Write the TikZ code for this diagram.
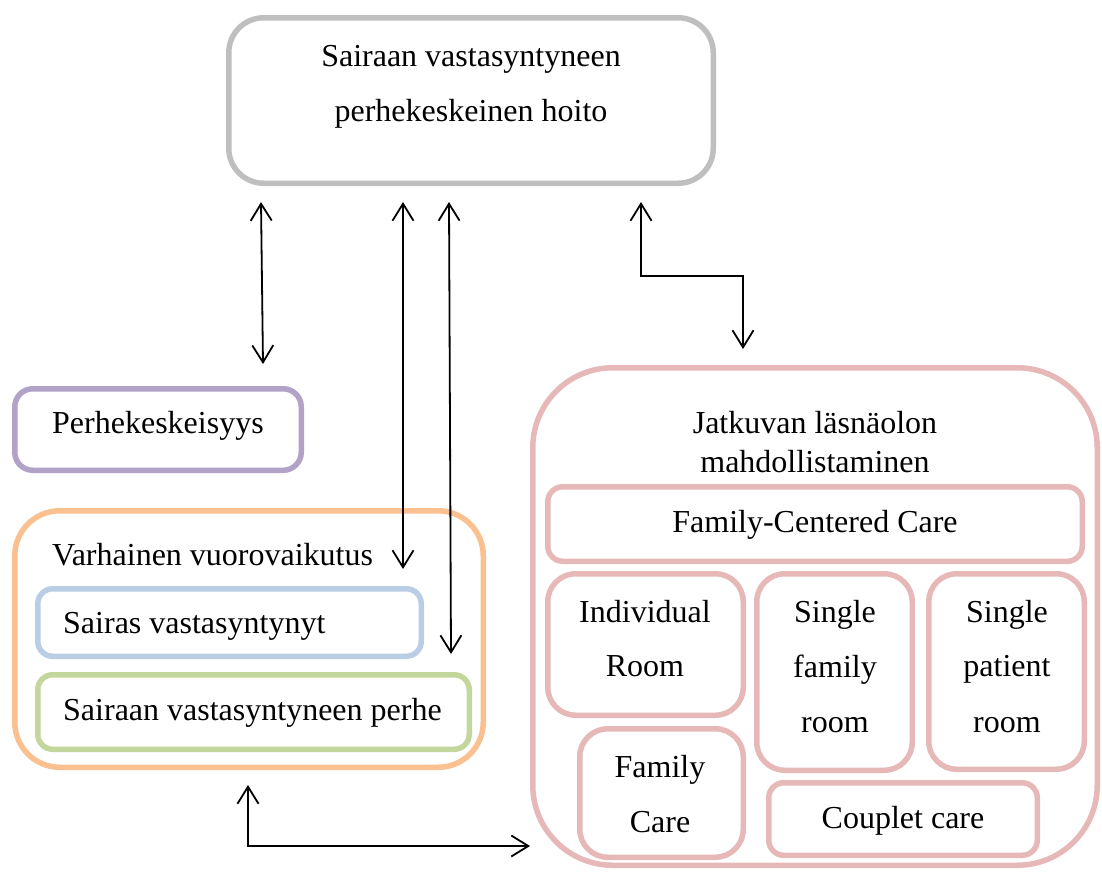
\documentclass[tikz,border=0pt]{standalone}
\usepackage{fontspec}
\setmainfont{Liberation Serif}
\usetikzlibrary{arrows.meta}
\definecolor{cgray}{HTML}{BFBFBF}
\definecolor{cpurple}{HTML}{B3A2C7}
\definecolor{corange}{HTML}{FAC090}
\definecolor{cblue}{HTML}{B9CDE5}
\definecolor{cgreen}{HTML}{C3D69B}
\definecolor{cpink}{HTML}{E6B9B8}
\begin{document}
\begin{tikzpicture}[x=1pt,y=-1pt,
  box/.style={draw=#1, line width=5.5pt, inner sep=0pt, outer sep=0pt, rectangle},
  txt/.style={font=\fontsize{32}{38}\selectfont, inner sep=0pt, anchor=base},
  txtl/.style={txt, anchor=base west},
  conn/.style={line width=1.8pt, black, {Straight Barb[length=17pt,width=21pt]}-{Straight Barb[length=17pt,width=21pt]}}
]
\useasboundingbox (0,0) rectangle (1102,871);
% boxes
\node[box=cgray, rounded corners=35pt, minimum width=484.5pt, minimum height=165.5pt] (top) at (471,100.5) {};
\node[box=cpurple, rounded corners=18pt, minimum width=286.5pt, minimum height=81.5pt] (perh) at (158,429.5) {};
\node[box=corange, rounded corners=45pt, minimum width=468.5pt, minimum height=256.5pt] (varh) at (249,639) {};
\node[box=cblue, rounded corners=15pt, minimum width=383.5pt, minimum height=67.5pt] (sairas) at (229.5,622.5) {};
\node[box=cgreen, rounded corners=15pt, minimum width=431.5pt, minimum height=74.5pt] (perhe) at (253.5,712) {};
\node[box=cpink, rounded corners=80pt, minimum width=564.5pt, minimum height=497.5pt] (jatk) at (815,616.5) {};
\node[box=cpink, rounded corners=15pt, minimum width=534.5pt, minimum height=74.5pt] (fcc) at (815,524) {};
\node[box=cpink, rounded corners=28pt, minimum width=195.5pt, minimum height=141.5pt] (indiv) at (645.5,644.5) {};
\node[box=cpink, rounded corners=28pt, minimum width=155.5pt, minimum height=196.5pt] (sfam) at (834.5,672) {};
\node[box=cpink, rounded corners=28pt, minimum width=155.5pt, minimum height=195.5pt] (spat) at (1006.5,671.5) {};
\node[box=cpink, rounded corners=28pt, minimum width=163.5pt, minimum height=128.5pt] (fcare) at (661.5,793) {};
\node[box=cpink, rounded corners=15pt, minimum width=268.5pt, minimum height=72.5pt] (coup) at (903,819) {};
% texts
\node[txt] (t1a) at (471,66) {Sairaan vastasyntyneen};
\node[txt] (t1b) at (471,121) {perhekeskeinen hoito};
\node[txtl] (t2) at (52,433) {Perhekeskeisyys};
\node[txtl] (t3) at (52,565) {Varhainen vuorovaikutus};
\node[txtl] (t4) at (63,633) {Sairas vastasyntynyt};
\node[txtl] (t5) at (63,720) {Sairaan vastasyntyneen perhe};
\node[txt] (t6a) at (815,433) {Jatkuvan läsnäolon};
\node[txt] (t6b) at (815,472) {mahdollistaminen};
\node[txt] (t7) at (815,532) {Family-Centered Care};
\node[txt] (t8a) at (645,622) {Individual};
\node[txt] (t8b) at (645,676) {Room};
\node[txt] (t9a) at (835,622) {Single};
\node[txt] (t9b) at (835,677) {family};
\node[txt] (t9c) at (835,732) {room};
\node[txt] (t10a) at (1007,622) {Single};
\node[txt] (t10b) at (1007,676) {patient};
\node[txt] (t10c) at (1007,732) {room};
\node[txt] (t11a) at (660,777) {Family};
\node[txt] (t11b) at (660,832) {Care};
\node[txt] (t12) at (903,828) {Couplet care};
% connector end points
\coordinate (a1s) at (261,202);
\coordinate (a1e) at (263,364);
\coordinate (a2s) at (403,202);
\coordinate (a2e) at (403,569);
\coordinate (a3s) at (449,202);
\coordinate (a3e) at (451,654);
\coordinate (a4s) at (641,202);
\coordinate (a4e) at (743,349);
\coordinate (a5s) at (248,785);
\coordinate (a5e) at (530,846);
% connectors
\draw[conn] (a1s) -- (a1e);
\draw[conn] (a2s) -- (a2e);
\draw[conn] (a3s) -- (a3e);
\draw[conn] (a4s) -- (a4s |- 0,276) -- (a4e |- 0,276) -- (a4e);
\draw[conn] (a5s) -- (a5s |- a5e) -- (a5e);
\end{tikzpicture}
\end{document}
